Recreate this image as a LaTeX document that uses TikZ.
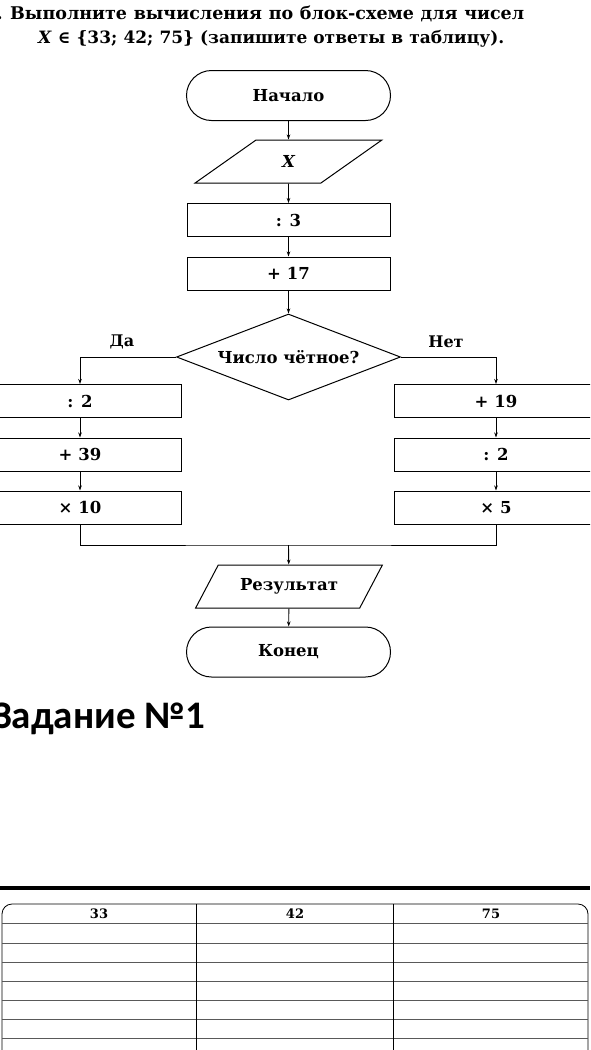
\documentclass[tikz,border=0pt]{standalone}
\usepackage{fontspec}
\setmainfont{DejaVu Serif}
\newfontfamily\calib{Carlito}
\usetikzlibrary{shapes.geometric,arrows.meta}
\begin{document}
\begin{tikzpicture}[x=1pt,y=-1pt,
 every node/.style={font=\bfseries\fontsize{16.5}{18}\selectfont},
 proc/.style={draw,line width=1pt,minimum width=203pt,minimum height=33pt,inner sep=0pt},
 term/.style={draw,line width=1pt,rounded corners=25pt,minimum width=204pt,minimum height=50pt,inner sep=0pt},
 io/.style={draw,line width=1pt,trapezium,trapezium left angle=45,trapezium right angle=135,trapezium stretches=true,minimum width=187pt,minimum height=43pt,inner sep=0pt},
 dec/.style={draw,line width=1pt,diamond,aspect=2.6,minimum width=224pt,minimum height=86pt,inner sep=0pt},
 conn/.style={line width=0.9pt,-{Stealth[length=5pt,width=3.5pt]}},
 flow/.style={line width=0.9pt},
 lbl/.style={font=\bfseries\fontsize{16}{18}\selectfont},
 ttl/.style={anchor=base west,inner sep=0pt,font=\bfseries\fontsize{17.5}{20}\selectfont},
 hdr/.style={font=\bfseries\fontsize{13}{14}\selectfont}]
\useasboundingbox (0,0) rectangle (590,1050);
\clip (0,0) rectangle (590,1050);
\fill[white] (0,0) rectangle (590,1050);

% title
\node[ttl] (t0) at (-3.5,19) {.};
\node[ttl] (t1) at (10,19)
  {\makebox[514pt][s]{Выполните вычисления по блок-схеме для чисел}};
\node[ttl,font=\bfseries\fontsize{17}{20}\selectfont] (t2) at (38,43)
  {\makebox[466pt][s]{\textit{X} ∈ \{33; 42; 75\} (запишите ответы в таблицу).}};

% flowchart
\node[term] (start) at (288.5,95.5) {Начало};
\node[io] (in) at (288.5,161.5) {\itshape X};
\node[proc] (d3) at (288.5,220) {: 3};
\node[proc] (p17) at (288.5,273.5) {+ 17};
\node[dec] (q) at (288.5,357) {Число чётное?};
\node[proc] (l1) at (80,401) {: 2};
\node[proc] (l2) at (80,454.5) {+ 39};
\node[proc] (l3) at (80,507.5) {× 10};
\node[proc] (r1) at (496,401) {+ 19};
\node[proc] (r2) at (496,454.5) {: 2};
\node[proc] (r3) at (496,507.5) {× 5};
\coordinate (m) at (288.5,545);
\node[io] (out) at (289,586.5) {Результат};
\node[term] (end) at (288.5,652) {Конец};
\node[lbl] (da) at (122,342) {Да};
\node[lbl] (net) at (446,342) {Нет};

\draw[conn] (start) -- (in);
\draw[conn] (in) -- (d3);
\draw[conn] (d3) -- (p17);
\draw[conn] (p17) -- (q);
\draw[conn] (q.west) -| (l1.north);
\draw[conn] (q.east) -| (r1.north);
\draw[conn] (l1) -- (l2);
\draw[conn] (l2) -- (l3);
\draw[conn] (r1) -- (r2);
\draw[conn] (r2) -- (r3);
\draw[flow] (l3.south) |- (m) -| (r3.south);
\draw[conn] (m) -- (out);
\draw[conn] (out) -- (end);

% task heading
\node[anchor=base west,inner sep=0pt,font=\calib\bfseries\fontsize{39}{44}\selectfont] (task) at (-7,728) {Задание №1};

% table
\draw[line width=3.5pt] (0,888) -- (590,888);
\draw[line width=0.8pt,rounded corners=10pt] (2,1055) -- (2,904) -- (588,904) -- (588,1055);
\foreach \yy in {923,943,962,981,1000,1019,1038}
  \draw[black!65,line width=0.8pt] (2,\yy) -- (588,\yy);
\draw[line width=0.9pt] (196,904) -- (196,1055);
\draw[line width=0.9pt] (393,904) -- (393,1055);
\node[hdr] (h1) at (99,914) {33};
\node[hdr] (h2) at (295,914) {42};
\node[hdr] (h3) at (491,914) {75};
\end{tikzpicture}
\end{document}
